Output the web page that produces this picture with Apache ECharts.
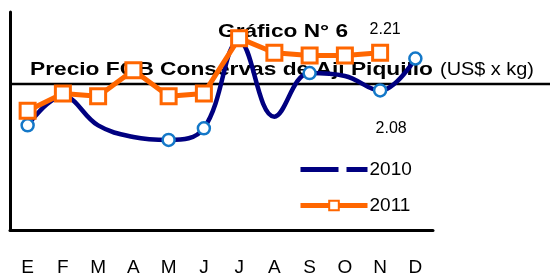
<!DOCTYPE html>
<html>
<head>
<meta charset="utf-8">
<script src="https://cdn.jsdelivr.net/npm/echarts@6/dist/echarts.min.js"></script>
<style>html,body{margin:0;padding:0;background:#fff}#c{width:550px;height:277px}</style>
</head>
<body>
<div id="c"></div>
<script>
var months = ['E','F','M','A','M','J','J','A','S','O','N','D'];
var serie2010 = [1.96, 2.06, 1.96, 1.92, 1.91, 1.95, 2.25, 1.99, 2.14, 2.13, 2.08, 2.19];
var serie2011 = [2.01, 2.07, 2.06, 2.15, 2.06, 2.07, 2.26, 2.21, 2.20, 2.20, 2.21, null];
var titulo = 'Gráfico N° 6';
var subtitulo = 'Precio FOB Conservas de Ají Piquillo';
var unidad = '(US$ x kg)';

var show2010 = [true,false,false,false,true,true,false,false,true,false,true,true];
var FONT = '"Liberation Sans", Arial, sans-serif';

var measureCtx = document.createElement('canvas').getContext('2d');
function fitScale(text, font, width) {
  measureCtx.font = font;
  return width / measureCtx.measureText(text).width;
}
var fTitle = 'bold 18px ' + FONT;
var fUnit = '18px ' + FONT;

var data2010 = serie2010.map(function(v,i){
  var d = {value: v};
  if (!show2010[i]) d.symbol = 'none';
  if (i === 10) d.label = {show: true, position: 'bottom', distance: 23, offset: [11, 0], formatter: function(p){return p.value.toFixed(2);}};
  return d;
});
var data2011 = serie2011.map(function(v,i){
  var d = {value: v};
  if (i === 10) d.label = {show: true, position: 'top', distance: 6, offset: [5, 0], formatter: function(p){return p.value.toFixed(2);}};
  return d;
});

var chart = echarts.init(document.getElementById('c'), null, {renderer: 'canvas'});
chart.setOption({
  animation: false,
  textStyle: {fontFamily: FONT},
  graphic: [
    {type: 'text', z: 1, x: 218, y: 32, scaleX: fitScale(titulo, fTitle, 130),
     style: {text: titulo, font: fTitle, fill: '#000', verticalAlign: 'middle', align: 'left'}},
    {type: 'text', z: 1, x: 30, y: 70, scaleX: fitScale(subtitulo, fTitle, 403),
     style: {text: subtitulo, font: fTitle, fill: '#000', verticalAlign: 'middle', align: 'left'}},
    {type: 'text', z: 1, x: 440, y: 70, scaleX: fitScale(unidad, fUnit, 94),
     style: {text: unidad, font: fUnit, fill: '#000', verticalAlign: 'middle', align: 'left'}},
    {type: 'line', z: 1, shape: {x1: 10, y1: 84, x2: 550, y2: 84}, style: {stroke: '#000', lineWidth: 2.5}}
  ],
  legend: {
    orient: 'vertical', left: 293, top: 155, itemGap: 17,
    itemWidth: 67, itemHeight: 12,
    lineStyle: {width: 5},
    textStyle: {fontFamily: FONT, fontSize: 19, color: '#000', padding: [0,0,0,-3]},
    data: [
      {name: '2010', icon: 'path://M0,0H38V5H0Z M46,0H67V5H46Z', itemStyle: {color: '#000080', borderWidth: 0}},
      {name: '2011'}
    ]
  },
  grid: {left: 10, right: 117, top: 12, bottom: 46},
  xAxis: {
    type: 'category', data: months, boundaryGap: true,
    axisLine: {lineStyle: {color: '#000', width: 3}},
    axisTick: {show: false},
    axisLabel: {color: '#000', fontSize: 19, margin: 28, fontFamily: FONT}
  },
  yAxis: {
    type: 'value', min: 1.6, max: 2.35,
    axisLine: {show: true, lineStyle: {color: '#000', width: 3}},
    axisTick: {show: false}, axisLabel: {show: false}, splitLine: {show: false}
  },
  series: [
    {name: '2010', type: 'line', smooth: 0.4, data: data2010, z: 3,
     symbol: 'circle', symbolSize: 12,
     lineStyle: {color: '#000080', width: 4.5},
     itemStyle: {color: '#fff', borderColor: '#1478C8', borderWidth: 2.5},
     label: {color: '#000', fontSize: 16, fontFamily: FONT}},
    {name: '2011', type: 'line', data: data2011, z: 4,
     symbol: 'rect', symbolSize: 15,
     lineStyle: {color: '#FF6600', width: 5},
     itemStyle: {color: '#fff', borderColor: '#FF6600', borderWidth: 3},
     label: {color: '#000', fontSize: 16, fontFamily: FONT}}
  ]
});
</script>
</body>
</html>
